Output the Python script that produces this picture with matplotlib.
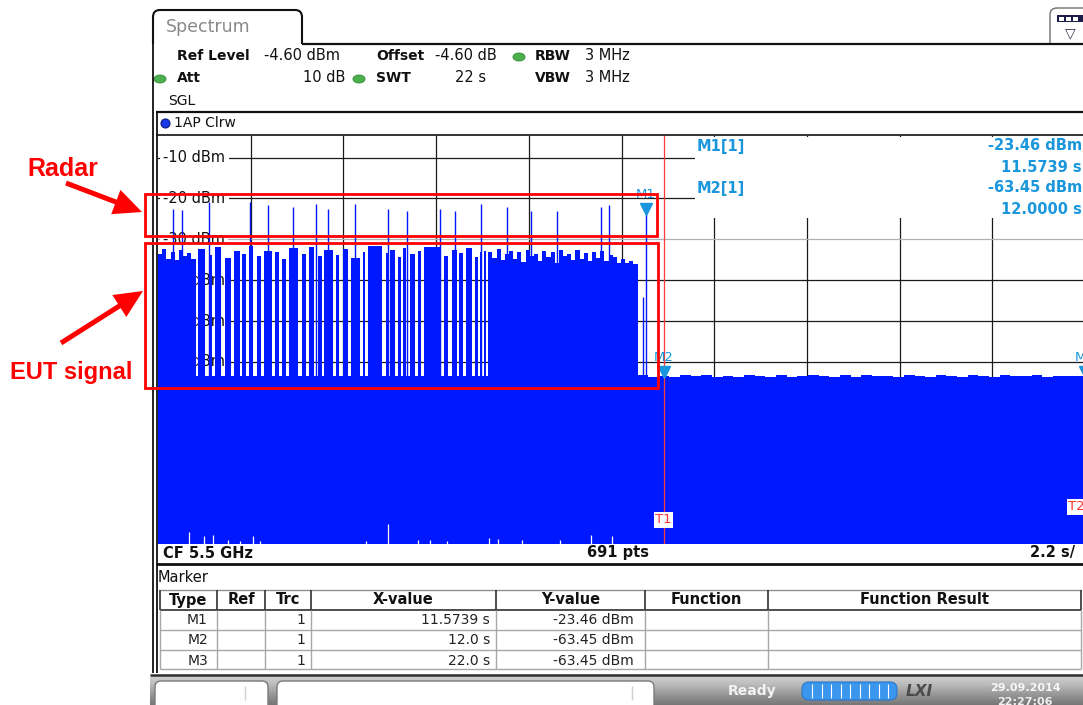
import numpy as np
import matplotlib.pyplot as plt
from matplotlib.path import Path
from matplotlib.patches import PathPatch, FancyBboxPatch, Rectangle, Ellipse, Circle, FancyArrow
from matplotlib.transforms import offset_copy

# sweep settings
SWEEP_S = 22.0
REF_DBM = -4.6
BOTTOM_DBM = REF_DBM - 100.0

# EUT transmission: the transmitter is off inside these intervals (s)
gap_start = [0.89, 1.12, 1.27, 1.50, 1.73, 1.95, 2.08, 2.26, 2.44, 2.70, 2.87, 3.03,
             3.33, 3.51, 3.71, 3.89, 4.16, 4.30, 4.50, 4.79, 4.91, 5.31, 5.45, 5.62,
             5.77, 5.88, 6.10, 6.24, 6.72, 6.88, 7.09, 7.25, 7.45, 7.59, 7.68, 7.78]
gap_end = [0.96, 1.23, 1.35, 1.59, 1.80, 2.00, 2.16, 2.34, 2.51, 2.78, 2.95, 3.11,
           3.41, 3.58, 3.80, 3.95, 4.22, 4.40, 4.58, 4.87, 4.99, 5.40, 5.51, 5.69,
           5.82, 5.98, 6.18, 6.32, 6.79, 6.97, 7.14, 7.30, 7.52, 7.64, 7.74, 7.84]
# top of each burst between two gaps (dBm)
burst_level = [-32.4, -33.8, -31.9, -34.6, -32.8, -33.5, -31.6, -34.2, -32.9, -33.1,
               -34.8, -32.2, -33.6, -31.8, -34.0, -32.7, -33.9, -32.3, -34.5, -33.0,
               -31.7, -33.4, -32.5, -34.3, -32.1, -33.7, -32.9, -31.9, -34.1, -32.6,
               -33.3, -32.0, -34.4, -33.2, -32.8]
# continuous transmission at the start and before the channel move
block_a = (0.0, 0.89)
block_a_level = [-33.6, -32.3, -34.7, -33.0, -35.1, -32.5, -34.2, -33.4, -34.9]
block_b = (7.84, 11.38)
block_b_level = [-33.0, -34.6, -32.4, -35.1, -33.5, -32.8, -34.9, -33.2, -35.6, -32.6,
                 -34.1, -33.7, -35.3, -32.9, -34.4, -33.1, -35.8, -32.7, -34.2, -33.6,
                 -35.0, -32.5, -34.7, -33.3, -35.4, -33.0, -34.5, -32.8, -35.2, -33.9,
                 -34.3, -35.7, -34.8, -35.9, -35.3, -36.1]

# noise floor
noise_level = -63.5
tail_noise = [-63.2, -63.6, -63.45, -63.8, -63.3, -63.5, -63.1, -63.7, -63.4, -63.6,
              -63.2, -63.5, -63.8, -63.3, -63.6, -63.4, -63.1, -63.5, -63.7, -63.3,
              -63.6, -63.2, -63.5, -63.4, -63.8, -63.3, -63.5, -63.6, -63.2, -63.4,
              -63.7, -63.3, -63.5, -63.6, -63.2, -63.4, -63.5, -63.3, -63.7, -63.4,
              -63.5, -63.45]

# radar pulses
radar_t = [0.36, 0.58, 1.22, 2.19, 2.61, 3.21, 3.74, 4.04, 4.68, 5.45,
           5.91, 6.69, 7.05, 7.66, 8.28, 8.85, 9.47, 10.51, 10.70, 11.5739]
radar_peak = [-22.6, -22.8, -20.8, -20.8, -21.7, -22.1, -21.3, -22.5, -21.3, -22.5,
              -23.0, -22.5, -23.0, -21.4, -22.2, -23.0, -23.0, -22.2, -21.7, -23.46]
partial_t = [11.52]
partial_peak = [-44.0]

# spots where the trace minimum lifts off the bottom of the screen
dip_t = [0.74, 1.08, 1.31, 1.67, 1.95, 2.26, 2.42, 4.94, 5.45, 6.16, 6.45, 6.85,
         7.86, 8.08, 8.63, 9.54, 10.27, 10.77]
dip_level = [-101.6, -102.7, -102.5, -103.6, -103.9, -102.7, -103.9, -103.9, -99.8,
             -103.6, -103.6, -103.9, -103.1, -103.3, -103.6, -103.6, -102.5, -102.7]

# markers
marker_names = ['M1', 'M2', 'M3']
marker_x = [11.5739, 12.0, 22.0]
marker_y = [-23.46, -63.45, -63.45]
marker_x_text = ['11.5739 s', '12.0 s', '22.0 s']
t1_s, t2_s = 12.0, 22.0

BLUE = '#0018ff'
MK = '#1a96dc'
RED = '#ff0000'

W, H = 1083, 705
fig = plt.figure(figsize=(W / 100, H / 100), dpi=100)

# trace diagram, pixel box of the screen grid
PX0, PX1, PY0, PY1 = 158, 1085, 135.6, 544.0
ax = fig.add_axes([PX0 / W, 1 - PY1 / H, (PX1 - PX0) / W, (PY1 - PY0) / H])
ax.set_xlim(0, SWEEP_S)
ax.set_ylim(BOTTOM_DBM, REF_DBM)
ax.axis('off')

for k in range(1, 10):
    ax.axvline(k * SWEEP_S / 10, color='#1a1a1a', lw=0.9, zorder=1)
for lvl in range(-10, -101, -10):
    ax.axhline(lvl, color='#b0b0b0' if lvl == -30 else '#1a1a1a', lw=0.9, zorder=1)
    ax.text(0.12, lvl, f'{lvl} dBm', ha='left', va='center', fontsize=10.5,
            color='#111111', zorder=2, bbox=dict(fc='white', ec='none', pad=2.5))


def bars(left, right, top):
    left = np.asarray(left, float)
    right = np.asarray(right, float)
    top = np.asarray(top, float)
    ax.bar(left, top - BOTTOM_DBM, width=right - left, bottom=BOTTOM_DBM, align='edge',
           color=BLUE, linewidth=0, zorder=3)


def steps(span, levels):
    edges = np.linspace(span[0], span[1], len(levels) + 1)
    # solid body under the ragged top so the step seams stay hidden
    bars([span[0]], [span[1]], [min(levels)])
    bars(edges[:-1], edges[1:], levels)


# noise floor, then the bursts on top of it
bars([0.0], [SWEEP_S], [min(tail_noise)])
bars([0.0], [block_b[1]], [noise_level])
steps((block_b[1], SWEEP_S), tail_noise)
steps(block_a, block_a_level)
bars(gap_end[:-1], gap_start[1:], burst_level)
steps(block_b, block_b_level)

ax.vlines(radar_t, noise_level, radar_peak, color=BLUE, lw=1.0, zorder=3)
ax.vlines(partial_t, noise_level, partial_peak, color=BLUE, lw=1.0, zorder=3)
ax.vlines(dip_t, BOTTOM_DBM, dip_level, color='white', lw=0.9, zorder=4)

# time lines
ax.axvline(t1_s, color='#ff3a3a', lw=0.9, zorder=5)
ax.text(t1_s, -98.7, 'T1', ha='center', va='center', color='#ff3030', fontsize=9.5,
        zorder=6, bbox=dict(fc='white', ec='none', pad=1))
ax.text(t2_s, -95.5, 'T2', ha='right', va='center', color='#ff3030', fontsize=9.5,
        zorder=6, bbox=dict(fc='white', ec='none', pad=1))

tri = offset_copy(ax.transData, fig=fig, y=4, units='dots')
for name, mx, my in zip(marker_names, marker_x, marker_y):
    ax.plot([mx], [my], marker='v', ms=8, color=MK, transform=tri, zorder=7, clip_on=False)
    ax.annotate(name, (mx, my), xytext=(0, 18), textcoords='offset pixels', ha='center',
                va='center', color=MK, fontsize=9.5, zorder=7)

# instrument screen around the diagram, in pixel coordinates
ui = fig.add_axes([0, 0, 1, 1])
grad = np.linspace(0, 1, 40)[:, None] * np.ones((1, 2))
ui.imshow(grad, extent=[150, W, 705, 676], aspect='auto', cmap='Greys',
          vmin=-0.9, vmax=2.2, zorder=0)
ui.set_xlim(0, W)
ui.set_ylim(H, 0)
ui.axis('off')


def line(xs, ys, color='#111111', lw=1.5, z=2):
    ui.plot(xs, ys, color=color, lw=lw, zorder=z, solid_capstyle='butt')


def txt(x, y, s, ha='left', size=10, weight='normal', color='#111111', **kw):
    ui.text(x, y, s, ha=ha, va='center', fontsize=size, fontweight=weight, color=color, **kw)


# tab
r = 7
verts = [(153, 44), (153, 10 + r), (153, 10), (153 + r, 10), (302 - r, 10), (302, 10),
         (302, 10 + r), (302, 44)]
codes = [Path.MOVETO, Path.LINETO, Path.CURVE3, Path.CURVE3, Path.LINETO, Path.CURVE3,
         Path.CURVE3, Path.LINETO]
ui.add_patch(PathPatch(Path(verts, codes), fill=False, lw=1.5, ec='#111111'))
txt(166, 27, 'Spectrum', size=12.5, color='#8a8a8a')
line([302, W], [44, 44], lw=1.6)

# window menu icon
verts = [(1050, 44), (1050, 8 + r), (1050, 8), (1050 + r, 8), (1095, 8)]
codes = [Path.MOVETO, Path.LINETO, Path.CURVE3, Path.CURVE3, Path.LINETO]
ui.add_patch(PathPatch(Path(verts, codes), fill=False, lw=1.0, ec='#707070'))
ui.add_patch(Rectangle((1057, 15), 26, 7, fc='#1c1c48', ec='none'))
for sx in (1059, 1066, 1073):
    ui.add_patch(Rectangle((sx, 16.5), 5, 4, fc='white', ec='none'))
txt(1070, 33, '\u25bd', ha='center', size=10, color='#303050')

# window and diagram borders
line([153, 153], [44, 673], lw=1.3)
line([156.5, 156.5], [111, 673], lw=1.3)
line([156, W], [111.5, 111.5], lw=1.6)
line([156, W], [135, 135], lw=1.2)
line([156, W], [564, 564], lw=2.0)

# setting rows
green = dict(fc='#4cb050', ec='#2e8a32', lw=0.6)
row1, row2 = 56, 78
txt(177, row1, 'Ref Level', weight='bold')
txt(264, row1, '-4.60 dBm', size=10.5)
txt(376, row1, 'Offset', weight='bold')
txt(435, row1, '-4.60 dB', size=10.5)
ui.add_patch(Ellipse((519, row1 + 1), 12, 8, **green))
txt(535, row1, 'RBW', weight='bold')
txt(585, row1, '3 MHz', size=10.5)
ui.add_patch(Ellipse((160, row2 + 1), 12, 8, **green))
txt(177, row2, 'Att', weight='bold')
txt(345, row2, '10 dB', ha='right', size=10.5)
ui.add_patch(Ellipse((359, row2 + 1), 12, 8, **green))
txt(376, row2, 'SWT', weight='bold')
txt(486, row2, '22 s', ha='right', size=10.5)
txt(535, row2, 'VBW', weight='bold')
txt(585, row2, '3 MHz', size=10.5)
txt(168, 101, 'SGL', size=10)
ui.add_patch(Circle((165.5, 123.5), 4.5, fc='#1838e8', ec='#0a1a80', lw=0.8))
txt(174, 123, '1AP Clrw', size=10)

# marker readout in the upper right corner of the diagram
ui.add_patch(Rectangle((695, 136.5), W - 695, 81, fc='white', ec='none', zorder=1))
for i, (name, mx, my) in enumerate(zip(marker_names[:2], marker_x, marker_y)):
    y = 146 + 42 * i
    txt(697, y, f'{name}[1]', weight='bold', size=10.5, color=MK)
    txt(1082, y, f'{my:.2f} dBm', ha='right', weight='bold', size=10.5, color=MK)
    txt(1082, y + 21, f'{mx:.4f} s', ha='right', weight='bold', size=10.5, color=MK)

# diagram footer
txt(163, 553, 'CF 5.5 GHz', weight='bold', size=10.5)
txt(618, 553, '691 pts', ha='center', weight='bold', size=10.5)
txt(1075, 553, '2.2 s/', ha='right', weight='bold', size=10.5)

# marker table
txt(158, 578, 'Marker', size=10.5)
cols = [160, 217, 265, 311, 496, 645, 768, 1081]
rows = [590, 610, 630, 650, 669]
line([160, 1081], [rows[0], rows[0]], color='#909090', lw=1.0)
line([160, 1081], [rows[1], rows[1]], color='#404040', lw=1.3)
for yy in rows[2:]:
    line([160, 1081], [yy, yy], color='#a8a8a8', lw=1.0)
for xx in cols:
    line([xx, xx], [rows[0], rows[1]], color='#303030', lw=1.2)
    line([xx, xx], [rows[1], rows[-1]], color='#a8a8a8', lw=1.0)
heads = ['Type', 'Ref', 'Trc', 'X-value', 'Y-value', 'Function', 'Function Result']
for c0, c1, head in zip(cols[:-1], cols[1:], heads):
    txt((c0 + c1) / 2, 600, head, ha='center', weight='bold', size=10.5)
for i, (name, xs, my) in enumerate(zip(marker_names, marker_x_text, marker_y)):
    y = 620 + 20.5 * i
    txt(208, y, name, ha='right', size=10, color='#222222')
    txt(305, y, '1', ha='right', size=10, color='#222222')
    txt(490, y, xs, ha='right', size=10, color='#222222')
    txt(634, y, f'{my:.2f} dBm', ha='right', size=10, color='#222222')

# status bar
line([150, W], [675, 675], color='#303030', lw=1.8)
for bx, bw in ((155, 113), (277, 377)):
    ui.add_patch(FancyBboxPatch((bx, 681), bw, 30, boxstyle='round,pad=0,rounding_size=6',
                                fc='white', ec='#7a7a7a', lw=1.0, zorder=2))
line([245, 245], [686, 700], color='#d0d0d0', lw=1.0, z=3)
line([632, 632], [686, 700], color='#d0d0d0', lw=1.0, z=3)
txt(728, 691, 'Ready', weight='bold', size=10, color='#f2f2f2')
ui.add_patch(FancyBboxPatch((802, 682), 95, 18, boxstyle='round,pad=0,rounding_size=7',
                            fc='#3b97ee', ec='#2a78c8', lw=0.8, zorder=2))
for sx in np.linspace(812, 888, 9):
    line([sx, sx], [684, 698], color='white', lw=0.8, z=3)
txt(906, 691, 'LXI', weight='bold', size=11, color='#4a4a4a', fontstyle='italic')
txt(1025, 688, '29.09.2014', ha='center', weight='bold', size=8, color='#f6f6f6')
txt(1025, 702, '22:27:06', ha='center', weight='bold', size=8, color='#f0f0f0')

# annotations
ui.add_patch(Rectangle((145, 194), 512, 42, fill=False, ec=RED, lw=2.0, zorder=5))
ui.add_patch(Rectangle((145, 243), 513, 145, fill=False, ec=RED, lw=2.0, zorder=5))
ui.add_patch(FancyArrow(66, 183, 76, 29, width=5, head_width=26, head_length=28,
                        length_includes_head=True, color=RED, lw=0, zorder=5))
ui.add_patch(FancyArrow(61, 343, 82, -52, width=5, head_width=26, head_length=28,
                        length_includes_head=True, color=RED, lw=0, zorder=5))
ui.text(27, 169, 'Radar', ha='left', va='center', fontsize=18, fontweight='bold',
        color=RED, family='Liberation Sans')
ui.text(10, 372, 'EUT signal', ha='left', va='center', fontsize=17, fontweight='bold',
        color=RED, family='Liberation Sans')

fig.savefig('out.png', dpi=100)
